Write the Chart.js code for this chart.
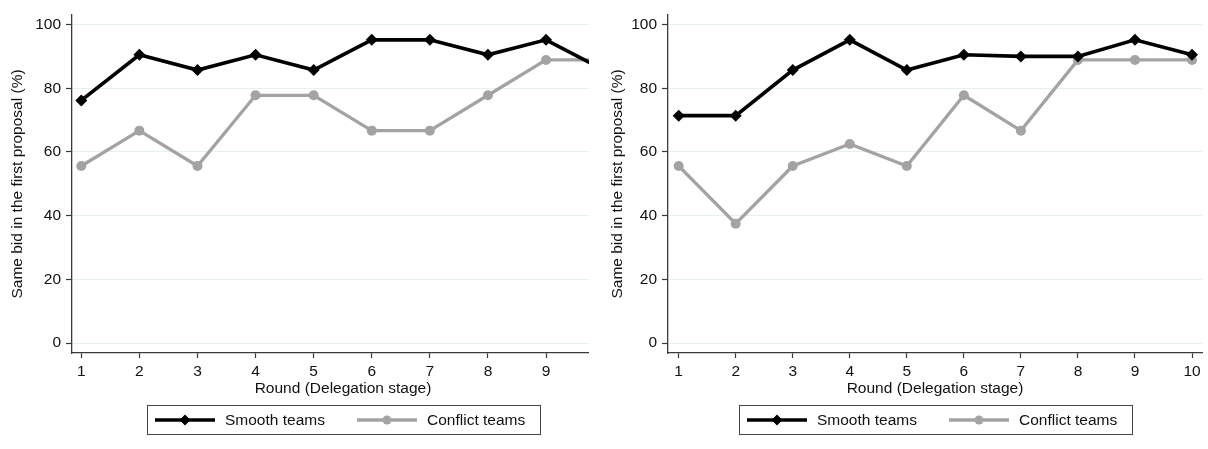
<!DOCTYPE html>
<html>
<head>
<meta charset="utf-8">
<script src="https://cdn.jsdelivr.net/npm/chart.js@4/dist/chart.umd.min.js"></script>
<style>
  html, body { margin: 0; padding: 0; background: #fff; }
  #wrap { position: relative; width: 1208px; height: 449px; overflow: hidden; }
  #leftBox { position: absolute; left: 0; top: 0; width: 589px; height: 449px; overflow: hidden; }
  #leftBox canvas { position: absolute; left: 0; top: 0; }
  #rightC { position: absolute; left: 600px; top: 0; }
</style>
</head>
<body>
<div id="wrap">
  <div id="leftBox"><canvas id="leftC" width="620" height="449"></canvas></div>
  <canvas id="rightC" width="608" height="449"></canvas>
</div>
<script>
// ---- data ----
const rounds = [1, 2, 3, 4, 5, 6, 7, 8, 9, 10];
const smoothLeft    = [76.2, 90.5, 85.7, 90.5, 85.7, 95.2, 95.2, 90.5, 95.2, 85.7];
const conflictLeft  = [55.6, 66.7, 55.6, 77.8, 77.8, 66.7, 66.7, 77.8, 88.9, 88.9];
const smoothRight   = [71.4, 71.4, 85.7, 95.2, 85.7, 90.5, 90.0, 90.0, 95.2, 90.5];
const conflictRight = [55.6, 37.5, 55.6, 62.5, 55.6, 77.8, 66.7, 88.9, 88.9, 88.9];
const yTicks = [0, 20, 40, 60, 80, 100];
const xTicks = [1, 2, 3, 4, 5, 6, 7, 8, 9, 10];
const seriesNames = ['Smooth teams', 'Conflict teams'];
const xTitle = 'Round (Delegation stage)';
const yTitle = 'Same bid in the first proposal (%)';

// ---- style ----
const FONT = "'Liberation Sans', Arial, Helvetica, sans-serif";
const AXIS = '#3a3a3a';
const GRID = '#e6eff1';
const BLACK = '#000000';
const GRAY = '#a3a3a3';

const legendPlugin = {
  id: 'boxLegend',
  afterDraw(chart) {
    const ctx = chart.ctx;
    const ca = chart.chartArea;
    const cx = (ca.left + ca.right) / 2;
    const w = 393, h = 29;
    const bx = Math.round(cx - w / 2) + 0.5;
    const by = ca.bottom + 52.5;
    ctx.save();
    ctx.strokeStyle = '#444';
    ctx.lineWidth = 1;
    ctx.strokeRect(bx, by, w, h);
    const cy = by + h / 2;
    const offs = [7.5, 209.5];
    chart.data.datasets.forEach((ds, i) => {
      const sx = bx + offs[i];
      ctx.strokeStyle = ds.borderColor;
      ctx.lineWidth = ds.borderWidth;
      ctx.beginPath();
      ctx.moveTo(sx, cy);
      ctx.lineTo(sx + 60, cy);
      ctx.stroke();
      ctx.fillStyle = ds.pointBackgroundColor;
      Chart.helpers.drawPoint(ctx, {pointStyle: ds.pointStyle, radius: ds.pointRadius - 0.5, rotation: 0, borderWidth: 0}, sx + 30, cy);
      ctx.fillStyle = '#111';
      ctx.font = '15.5px ' + FONT;
      ctx.textBaseline = 'middle';
      ctx.textAlign = 'left';
      ctx.fillText(ds.label, sx + 70, cy + 1);
    });
    ctx.restore();
  }
};

function makeChart(id, smooth, conflict, xmin, xmax, yAxisW, padRight) {
  const mk = (vals) => rounds.map((r, i) => ({x: r, y: vals[i]}));
  return new Chart(document.getElementById(id), {
    type: 'line',
    data: {
      datasets: [
        {label: seriesNames[0], data: mk(smooth), borderColor: BLACK, backgroundColor: BLACK,
         pointBackgroundColor: BLACK, pointBorderColor: BLACK, borderWidth: 3.6,
         pointStyle: 'rectRot', pointRadius: 6, pointBorderWidth: 0, tension: 0},
        {label: seriesNames[1], data: mk(conflict), borderColor: GRAY, backgroundColor: GRAY,
         pointBackgroundColor: GRAY, pointBorderColor: GRAY, borderWidth: 3.3,
         pointStyle: 'circle', pointRadius: 5, pointBorderWidth: 0, tension: 0}
      ]
    },
    options: {
      responsive: false,
      animation: false,
      devicePixelRatio: 1,
      layout: {padding: {top: 15, right: padRight, bottom: 51, left: 0}},
      plugins: {legend: {display: false}, tooltip: {enabled: false}},
      scales: {
        x: {
          type: 'linear', min: xmin, max: xmax,
          afterBuildTicks: (s) => { s.ticks = xTicks.map(v => ({value: v})); },
          afterFit: (s) => { s.height = 45; s.paddingLeft = 0; s.paddingRight = 0; },
          ticks: {autoSkip: false, maxRotation: 0, padding: 4, color: '#111',
                  font: {family: FONT, size: 15.5}},
          grid: {drawOnChartArea: false, drawTicks: true, tickLength: 5, tickColor: AXIS, tickWidth: 1.2},
          border: {display: true, color: AXIS, width: 1.3},
          title: {display: true, text: xTitle, color: '#111', padding: {top: 0, bottom: 0},
                  font: {family: FONT, size: 15.5}}
        },
        y: {
          type: 'linear', min: -3.1, max: 103,
          afterBuildTicks: (s) => { s.ticks = yTicks.map(v => ({value: v})); },
          afterFit: (s) => { s.width = yAxisW; s.paddingTop = 0; s.paddingBottom = 0; },
          ticks: {padding: 5, color: '#111', font: {family: FONT, size: 15.5}},
          grid: {color: GRID, lineWidth: 1, drawTicks: true, tickLength: 6, tickColor: AXIS, tickWidth: 1.2},
          border: {display: true, color: AXIS, width: 1.3},
          title: {display: true, text: yTitle, color: '#111', padding: {top: 8, bottom: 0},
                  font: {family: FONT, size: 15.5}}
        }
      }
    },
    plugins: [legendPlugin]
  });
}

makeChart('leftC', smoothLeft, conflictLeft, 0.84, 10.17, 72, 5);
makeChart('rightC', smoothRight, conflictRight, 0.813, 10.175, 68, 5);
</script>
</body>
</html>
